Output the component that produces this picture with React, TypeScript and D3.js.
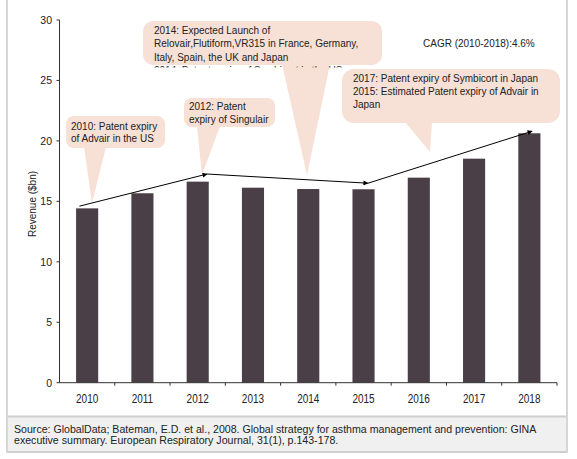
import React from 'react';
import * as d3 from 'd3';

const years = ['2010', '2011', '2012', '2013', '2014', '2015', '2016', '2017', '2018'];
const revenue = [14.42, 15.67, 16.63, 16.13, 16.02, 16.0, 16.96, 18.53, 20.63];
const yTicks = [0, 5, 10, 15, 20, 25, 30];
const trendYears = [2009.86, 2012.17, 2015.08, 2018.05];
const trendValues = [14.6, 17.26, 16.5, 20.8];

const bubble1 = ['2010: Patent expiry', 'of Advair in the US'];
const bubble2 = ['2012: Patent', 'expiry of Singulair'];
const bubble3 = [
  '2014: Expected Launch of',
  'Relovair,Flutiform,VR315 in France, Germany,',
  'Italy, Spain, the UK and Japan',
  '2014: Patent expiry of Symbicort in the US',
];
const bubble4 = [
  '2017: Patent expiry of Symbicort in Japan',
  '2015: Estimated Patent expiry of Advair in',
  'Japan',
];
const cagrText = 'CAGR (2010-2018):4.6%';
const yTitle = 'Revenue ($bn)';
const sourceLines = [
  'Source: GlobalData; Bateman, E.D. et al., 2008. Global strategy for asthma management and prevention: GINA',
  'executive summary. European Respiratory Journal, 31(1), p.143-178.',
];

const W = 577;
const H = 459;
const FONT = '"Liberation Sans", Arial, sans-serif';
const BAR = '#4a3f46';
const BUB = '#f7e0d6';
const TXT = '#222';

type Bubble = {
  lines: string[];
  x: number; y: number; w: number; h: number; r: number;
  base: [number, number]; tip: [number, number];
  tx: number; baselines: number[];
};

const bubbles: Bubble[] = [
  { lines: bubble1, x: 66, y: 116, w: 99, h: 32, r: 8, base: [84, 106], tip: [92, 203], tx: 71, baselines: [129.5, 141.5] },
  { lines: bubble2, x: 184, y: 98, w: 91, h: 29, r: 8, base: [197, 220], tip: [202, 175], tx: 189, baselines: [110, 123] },
  { lines: bubble3, x: 143, y: 21, w: 239, h: 44, r: 10, base: [282, 330], tip: [307, 175], tx: 154, baselines: [34, 47.3, 60.6, 74] },
  { lines: bubble4, x: 342, y: 69, w: 218, h: 54, r: 12, base: [405, 432], tip: [430, 152], tx: 353, baselines: [82.3, 95.2, 108] },
];

export default function App() {
  const x = d3.scaleBand<string>().domain(years).range([59.5, 557]).paddingInner(0.6).paddingOuter(0.3);
  const y = d3.scaleLinear().domain([0, 30]).range([382.7, 20]);
  const step = x.step();
  const bw = x.bandwidth();
  const xc = d3.scaleLinear()
    .domain([2010, 2018])
    .range([(x('2010') as number) + bw / 2, (x('2018') as number) + bw / 2]);
  const x0 = x.range()[0];
  const x1 = x.range()[1];
  const y0 = y(0);

  const boundaries = years.map((yr) => (x(yr) as number) - step * 0.3 + step);

  const trendPts = trendYears.map((t, i) => [xc(t), y(trendValues[i])] as [number, number]);
  const segs = trendPts.slice(1).map((p, i) => [trendPts[i], p]);

  return (
    <svg width={W} height={H} style={{ position: 'absolute', left: 0, top: 0 }} fontFamily={FONT}>
      <defs>
        <marker id="arr" viewBox="0 0 10 10" refX="9" refY="5" markerWidth="6" markerHeight="5" orient="auto" markerUnits="userSpaceOnUse">
          <path d="M0,0 L10,5 L0,10 z" fill="#000" />
        </marker>
        <clipPath id="clip3">
          <rect x={0} y={0} width={W} height={67.5} />
        </clipPath>
      </defs>
      <rect x={0} y={0} width={W} height={H} fill="#fff" />
      {/* frame */}
      <rect x={7} y={416.5} width={560} height={35} fill="#f0f0f0" />
      <line x1={7} x2={567} y1={416.5} y2={416.5} stroke="#cfcfcf" strokeWidth={2} />
      <line x1={7} x2={567} y1={452} y2={452} stroke="#cfcfcf" strokeWidth={2} />
      <line x1={7} x2={7} y1={0} y2={453} stroke="#d6d6d6" strokeWidth={2} />
      <line x1={567} x2={567} y1={0} y2={453} stroke="#d6d6d6" strokeWidth={2} />

      {/* bubbles */}
      {bubbles.map((b, i) => (
        <g key={i}>
          <rect x={b.x} y={b.y} width={b.w} height={b.h} rx={b.r} ry={b.r} fill={BUB} />
          <path d={`M${b.base[0]},${b.y + b.h - 1} L${b.tip[0]},${b.tip[1]} L${b.base[1]},${b.y + b.h - 1} Z`} fill={BUB} />
          <g clipPath={i === 2 ? 'url(#clip3)' : undefined}>
            {b.lines.map((l, j) => (
              <text key={j} x={b.tx} y={b.baselines[j]} fontSize={10} fill={TXT}>{l}</text>
            ))}
          </g>
        </g>
      ))}

      {/* bars */}
      {years.map((yr, i) => (
        <rect key={yr} x={x(yr)} y={y(revenue[i])} width={bw} height={y0 - y(revenue[i])} fill={BAR} />
      ))}

      {/* axes */}
      <line x1={x0} x2={x0} y1={y(30)} y2={y0} stroke="#333" strokeWidth={1} />
      <line x1={x0} x2={x1} y1={y0} y2={y0} stroke="#333" strokeWidth={1} />
      {yTicks.map((t) => (
        <g key={t}>
          <line x1={x0 - 3} x2={x0} y1={y(t)} y2={y(t)} stroke="#333" />
          <text transform={`translate(52,${y(t) + 4}) scale(1,1.1)`} fontSize={10.5} textAnchor="end" fill={TXT}>{t}</text>
        </g>
      ))}
      {boundaries.map((b, i) => (
        <line key={i} x1={b} x2={b} y1={y0} y2={y0 + 3} stroke="#333" />
      ))}
      {years.map((yr) => (
        <text key={yr} transform={`translate(${(x(yr) as number) + bw / 2},403) scale(1,1.35)`} fontSize={10} textAnchor="middle" fill={TXT}>{yr}</text>
      ))}
      <text transform="translate(36,204) rotate(-90)" fontSize={10} textAnchor="middle" fill={TXT}>{yTitle}</text>

      {/* trend */}
      {segs.map((s, i) => (
        <line key={i} x1={s[0][0]} y1={s[0][1]} x2={s[1][0]} y2={s[1][1]} stroke="#000" strokeWidth={1} markerEnd="url(#arr)" />
      ))}

      <text x={423} y={47} fontSize={10} fill={TXT}>{cagrText}</text>

      {sourceLines.map((l, i) => (
        <text key={i} x={14} y={433.3 + i * 11} fontSize={10.6} fill={TXT}>{l}</text>
      ))}
    </svg>
  );
}
